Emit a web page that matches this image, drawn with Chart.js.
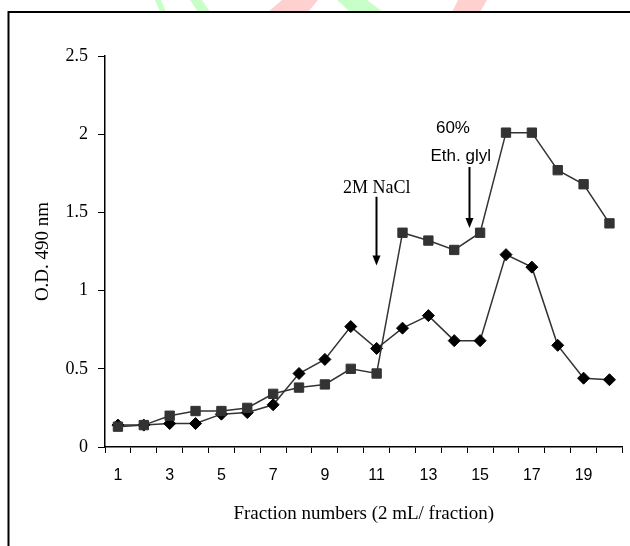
<!DOCTYPE html>
<html>
<head>
<meta charset="utf-8">
<title>O.D. 490 nm by fraction</title>
<script src="https://cdn.jsdelivr.net/npm/chart.js@4.4.1/dist/chart.umd.min.js"></script>
<style>
  html, body { margin: 0; padding: 0; background: #fff; }
  canvas { display: block; }
</style>
</head>
<body>
<canvas id="elution" width="630" height="546"></canvas>
<script>
// Fraction numbers (2 mL each)
const fractions = ['1','2','3','4','5','6','7','8','9','10','11','12','13','14','15','16','17','18','19','20'];
// Absorbance readings at 490 nm
const squareOD  = [0.13, 0.14, 0.20, 0.23, 0.23, 0.25, 0.34, 0.38, 0.40, 0.50, 0.47, 1.37, 1.32, 1.26, 1.37, 2.01, 2.01, 1.77, 1.68, 1.43];
const diamondOD = [0.14, 0.14, 0.15, 0.15, 0.21, 0.22, 0.27, 0.47, 0.56, 0.77, 0.63, 0.76, 0.84, 0.68, 0.68, 1.23, 1.15, 0.65, 0.44, 0.43];
// Value axis ticks
const odTicks = [0, 0.5, 1, 1.5, 2, 2.5];
// Elution steps: fraction where each buffer was applied, arrow span in O.D. units
const stepArrows = [
  { fraction: 11,   top: 1.60, tip: 1.16 },
  { fraction: 14.6, top: 1.79, tip: 1.40 }
];
const stepNotes = [
  { text: '2M NaCl',   fraction: 11,    od: 1.655, serif: true },
  { text: '60%',       fraction: 13.95, od: 2.04,  serif: false },
  { text: 'Eth. glyl', fraction: 14.25, od: 1.857, serif: false }
];

const SERIF = '"Liberation Serif", "Times New Roman", serif';
const SANS = '"Liberation Sans", Arial, sans-serif';

const decorations = {
  id: 'decorations',
  beforeDraw(chart) {
    const ctx = chart.ctx;
    ctx.save();
    // faint logo strokes along the top edge
    const strokes = [
      { c: 'rgba(190,255,190,0.85)', p: [[155,0],[161,0],[166,12],[160,12]] },
      { c: 'rgba(190,255,190,0.85)', p: [[190,0],[202,0],[210,12],[198,12]] },
      { c: 'rgba(255,200,200,0.85)', p: [[282,0],[318,0],[308,12],[268,12]] },
      { c: 'rgba(190,255,190,0.85)', p: [[337,0],[367,0],[383,12],[350,12]] },
      { c: 'rgba(255,200,200,0.85)', p: [[458,0],[487,0],[480,12],[452,12]] }
    ];
    strokes.forEach(s => {
      ctx.fillStyle = s.c;
      ctx.beginPath();
      s.p.forEach((pt, i) => i ? ctx.lineTo(pt[0], pt[1]) : ctx.moveTo(pt[0], pt[1]));
      ctx.closePath();
      ctx.fill();
    });
    ctx.restore();
  },
  afterDatasetsDraw(chart) {
    const { ctx, scales: { x, y } } = chart;
    ctx.save();
    ctx.strokeStyle = '#000';
    ctx.fillStyle = '#000';
    stepArrows.forEach(a => {
      const px = Math.round(x.getPixelForValue(a.fraction - 1)) - 0.5;
      const y0 = y.getPixelForValue(a.top);
      const y1 = y.getPixelForValue(a.tip);
      ctx.lineWidth = 2;
      ctx.beginPath();
      ctx.moveTo(px, y0);
      ctx.lineTo(px, y1 - 8);
      ctx.stroke();
      ctx.beginPath();
      ctx.moveTo(px - 4, y1 - 10);
      ctx.lineTo(px + 4, y1 - 10);
      ctx.lineTo(px, y1);
      ctx.closePath();
      ctx.fill();
    });
    ctx.textAlign = 'center';
    ctx.textBaseline = 'middle';
    stepNotes.forEach(n => {
      ctx.font = n.serif ? '18px ' + SERIF : '17px ' + SANS;
      ctx.fillText(n.text, x.getPixelForValue(n.fraction - 1), y.getPixelForValue(n.od));
    });
    ctx.restore();
  },
  afterDraw(chart) {
    const ctx = chart.ctx;
    ctx.save();
    ctx.strokeStyle = '#000';
    ctx.lineWidth = 2;
    ctx.strokeRect(8.5, 12, 700, 700);
    ctx.restore();
  }
};

new Chart(document.getElementById('elution'), {
  type: 'line',
  data: {
    labels: fractions,
    datasets: [
      {
        data: squareOD,
        borderColor: '#333',
        borderWidth: 1.5,
        backgroundColor: '#333',
        pointStyle: 'rect',
        pointRadius: 6.6,
        pointBorderWidth: 1,
        pointBorderColor: '#333',
        pointBackgroundColor: '#333',
        tension: 0
      },
      {
        data: diamondOD,
        borderColor: '#333',
        borderWidth: 1.5,
        backgroundColor: '#000',
        pointStyle: 'rectRot',
        pointRadius: 6,
        pointBorderWidth: 1,
        pointBorderColor: '#000',
        pointBackgroundColor: '#000',
        tension: 0
      }
    ]
  },
  options: {
    responsive: false,
    animation: false,
    events: [],
    layout: { padding: { top: 56, right: 7, bottom: 0, left: 0 } },
    plugins: { legend: { display: false }, tooltip: { enabled: false } },
    scales: {
      x: {
        type: 'category',
        offset: true,
        afterFit(scale) { scale.height = 99; },
        grid: {
          offset: true,
          drawOnChartArea: false,
          drawTicks: true,
          tickLength: 6,
          color: '#000',
          lineWidth: 1
        },
        border: { display: true, color: '#000', width: 1.5 },
        ticks: {
          autoSkip: false,
          maxRotation: 0,
          padding: 13,
          color: '#000',
          font: { family: SANS, size: 16 },
          callback(value, index) { return index % 2 === 0 ? fractions[index] : ''; }
        },
        title: {
          display: true,
          text: 'Fraction numbers (2 mL/ fraction)',
          color: '#000',
          font: { family: SERIF, size: 19 },
          padding: { top: 0, bottom: 21 }
        }
      },
      y: {
        min: 0,
        max: 2.5,
        afterFit(scale) { scale.width = 105; },
        afterBuildTicks(scale) { scale.ticks = odTicks.map(v => ({ value: v })); },
        grid: {
          drawOnChartArea: false,
          drawTicks: true,
          tickLength: 7,
          color: '#000',
          lineWidth: 1
        },
        border: { display: true, color: '#000', width: 1.5 },
        ticks: {
          padding: 10,
          color: '#000',
          font: { family: SERIF, size: 18 },
          callback(value) { return String(value); }
        },
        title: {
          display: true,
          text: 'O.D. 490 nm',
          color: '#000',
          font: { family: SERIF, size: 19 },
          padding: { top: 32, bottom: 0 }
        }
      }
    }
  },
  plugins: [decorations]
});
</script>
</body>
</html>
